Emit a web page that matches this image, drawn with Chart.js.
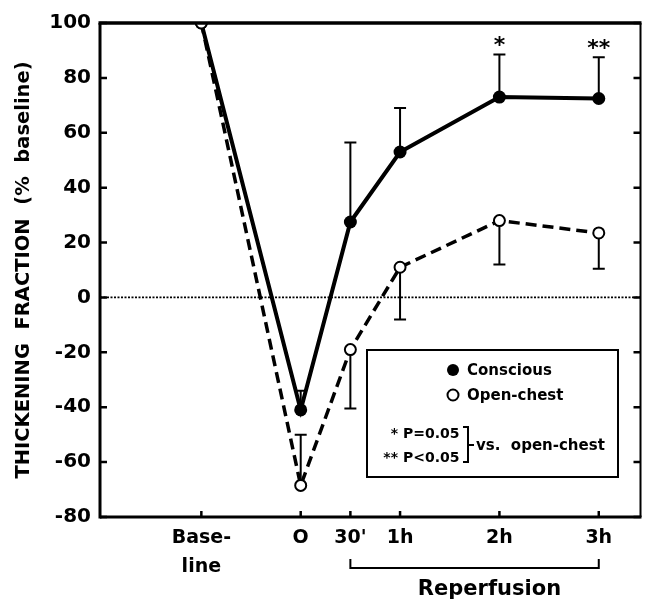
<!DOCTYPE html>
<html lang="en">
<head>
<meta charset="UTF-8">
<title>Thickening fraction</title>
<script src="https://cdn.jsdelivr.net/npm/chart.js@4.4.1/dist/chart.umd.min.js"></script>
<style>
  html, body { margin: 0; padding: 0; background: #fff; }
  canvas { display: block; }
</style>
</head>
<body>
<canvas id="tfChart" width="648" height="601"></canvas>
<script>
// time points (hours from occlusion) and their axis labels
const timePos = [-1, 0, 0.5, 1, 2, 3];
const timeLabels = [['Base-', 'line'], 'O', "30'", '1h', '2h', '3h'];

// thickening fraction, % of baseline, with the end of each error bar
const conscious   = [100, -41,  27.5, 53, 73,   72.5];
const consciousSE = [null, -34, 56.5, 69, 88.5, 87.5];
const openChest   = [100, -68.5, -19, 11, 28,   23.5];
const openChestSE = [null, -50, -40.5, -8, 12,  10.5];
const signif      = [null, null, null, null, '*', '**'];

const FONT = 'DejaVu Sans';

const figure = {
  id: 'figure',
  beforeDatasetsDraw(chart) {
    const { ctx, chartArea: a, scales: { x, y } } = chart;
    ctx.save();
    ctx.strokeStyle = '#000';

    // dotted zero line
    ctx.lineWidth = 1.8;
    ctx.setLineDash([2, 1.5]);
    ctx.beginPath();
    ctx.moveTo(a.left, y.getPixelForValue(0));
    ctx.lineTo(a.right, y.getPixelForValue(0));
    ctx.stroke();
    ctx.setLineDash([]);

    // one-sided error bars
    ctx.lineWidth = 2;
    [[conscious, consciousSE], [openChest, openChestSE]].forEach(([m, e]) => {
      m.forEach((v, i) => {
        if (e[i] == null) return;
        const px = x.getPixelForValue(timePos[i]);
        const y0 = y.getPixelForValue(v);
        const y1 = y.getPixelForValue(e[i]);
        ctx.beginPath();
        ctx.moveTo(px, y0); ctx.lineTo(px, y1);
        ctx.moveTo(px - 6, y1); ctx.lineTo(px + 6, y1);
        ctx.stroke();
      });
    });
    ctx.restore();
  },
  afterDatasetsDraw(chart) {
    const { ctx, chartArea: a, scales: { x, y } } = chart;
    ctx.save();
    ctx.strokeStyle = '#000';
    ctx.fillStyle = '#000';

    // frame
    ctx.lineWidth = 3.5;
    ctx.beginPath(); ctx.moveTo(a.left - 1.5, a.top); ctx.lineTo(a.right + 1, a.top); ctx.stroke();
    ctx.lineWidth = 3;
    ctx.beginPath(); ctx.moveTo(a.left, a.top); ctx.lineTo(a.left, a.bottom + 1.5); ctx.stroke();
    ctx.beginPath(); ctx.moveTo(a.left, a.bottom); ctx.lineTo(a.right + 1, a.bottom); ctx.stroke();
    ctx.lineWidth = 2;
    ctx.beginPath(); ctx.moveTo(a.right, a.top); ctx.lineTo(a.right, a.bottom); ctx.stroke();

    // inward tick marks
    ctx.lineWidth = 2.5;
    y.ticks.forEach(t => {
      const py = y.getPixelForValue(t.value);
      ctx.beginPath();
      ctx.moveTo(a.left, py); ctx.lineTo(a.left + 7, py);
      ctx.moveTo(a.right, py); ctx.lineTo(a.right - 7, py);
      ctx.stroke();
    });
    timePos.forEach(v => {
      const px = x.getPixelForValue(v);
      ctx.beginPath(); ctx.moveTo(px, a.bottom); ctx.lineTo(px, a.bottom - 6); ctx.stroke();
    });

    // significance marks over the conscious error bars
    ctx.font = `bold 22px "${FONT}"`;
    ctx.textAlign = 'center';
    ctx.textBaseline = 'middle';
    signif.forEach((s, i) => {
      if (!s) return;
      ctx.fillText(s, x.getPixelForValue(timePos[i]), y.getPixelForValue(consciousSE[i]) - 8);
    });

    // reperfusion bracket under the axis
    const r0 = x.getPixelForValue(0.5), r1 = x.getPixelForValue(3);
    ctx.lineWidth = 2;
    ctx.beginPath();
    ctx.moveTo(r0, 559); ctx.lineTo(r0, 568); ctx.lineTo(r1, 568); ctx.lineTo(r1, 559);
    ctx.stroke();
    ctx.font = `bold 21px "${FONT}"`;
    ctx.fillText('Reperfusion', x.getPixelForValue(1.9), 590);

    // legend box
    ctx.fillStyle = '#fff';
    ctx.fillRect(367, 350, 251, 127);
    ctx.fillStyle = '#000';
    ctx.lineWidth = 2;
    ctx.strokeRect(367, 350, 251, 127);

    ctx.beginPath(); ctx.arc(453, 370, 6, 0, Math.PI * 2); ctx.fill();
    ctx.beginPath(); ctx.arc(453, 395, 5.5, 0, Math.PI * 2);
    ctx.fillStyle = '#fff'; ctx.fill(); ctx.fillStyle = '#000'; ctx.stroke();

    ctx.font = `bold 15px "${FONT}"`;
    ctx.textAlign = 'left';
    ctx.fillText('Conscious', 467, 371);
    ctx.fillText('Open-chest', 467, 396);
    ctx.fillText('vs.  open-chest', 476, 446);
    ctx.font = `bold 14px "${FONT}"`;
    ctx.fillText('P=0.05', 403, 434);
    ctx.fillText('P<0.05', 403, 458);
    ctx.textAlign = 'right';
    ctx.fillText('*', 398, 434);
    ctx.fillText('**', 398, 458);

    ctx.lineWidth = 2;
    ctx.beginPath();
    ctx.moveTo(463, 427); ctx.lineTo(468, 427); ctx.lineTo(468, 462); ctx.lineTo(463, 462);
    ctx.moveTo(468, 445); ctx.lineTo(474, 445);
    ctx.stroke();

    ctx.restore();
  }
};

Chart.defaults.font.family = FONT;
Chart.defaults.font.weight = 'bold';
Chart.defaults.color = '#000';

new Chart(document.getElementById('tfChart'), {
  type: 'line',
  data: {
    datasets: [
      {
        label: 'Open-chest',
        data: timePos.map((t, i) => ({ x: t, y: openChest[i] })),
        borderColor: '#000',
        borderWidth: 3.5,
        borderDash: [11, 6],
        pointRadius: 5.5,
        pointBorderWidth: 2,
        pointBackgroundColor: '#fff',
        pointBorderColor: '#000',
        clip: { left: 10, top: 0, right: 10, bottom: 10 }
      },
      {
        label: 'Conscious',
        data: timePos.map((t, i) => ({ x: t, y: conscious[i] })),
        borderColor: '#000',
        borderWidth: 4,
        pointRadius: 6.5,
        pointBorderWidth: 0,
        pointBackgroundColor: '#000',
        clip: { left: 10, top: 0, right: 10, bottom: 10 }
      }
    ]
  },
  options: {
    responsive: false,
    animation: false,
    events: [],
    layout: { padding: { top: 23, right: 7, left: 0, bottom: 0 } },
    plugins: { legend: { display: false }, tooltip: { enabled: false } },
    scales: {
      x: {
        type: 'linear',
        min: -2.02,
        max: 3.42,
        grid: { display: false, drawTicks: false },
        border: { display: false },
        afterBuildTicks: s => { s.ticks = timePos.map(v => ({ value: v })); },
        afterFit: s => { s.height = 84; },
        ticks: {
          autoSkip: false,
          maxRotation: 0,
          padding: 7,
          font: { size: 19, lineHeight: 1.5 },
          callback: (v, i) => timeLabels[i]
        }
      },
      y: {
        min: -80,
        max: 100,
        grid: { display: false, drawTicks: false },
        border: { display: false },
        afterFit: s => { s.width = 100; },
        ticks: { stepSize: 20, padding: 9, font: { size: 20 } },
        title: {
          display: true,
          text: 'THICKENING  FRACTION  (%  baseline)',
          font: { size: 19.5 },
          padding: { top: 12, bottom: 0 }
        }
      }
    }
  },
  plugins: [figure]
});
</script>
</body>
</html>
